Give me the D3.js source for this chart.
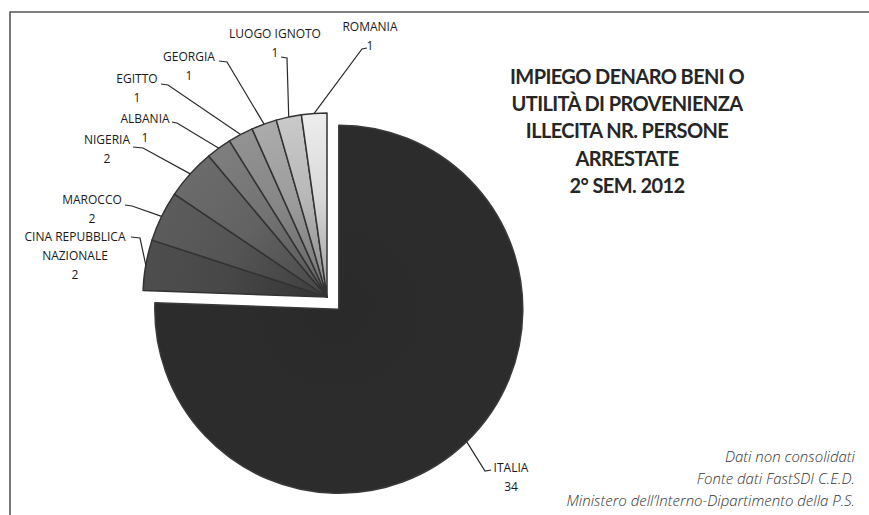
<html>
  <head>
    <script src="https://d3js.org/d3.v7.min.js"></script>
    <style>
      body { margin: 0; background: #fff; }
      .lbl { font-family: "Open Sans", sans-serif; font-size: 12px; font-weight: 500; fill: #1a1a1a; text-anchor: middle; }
      .title { font-family: Lato, "Open Sans", sans-serif; font-weight: bold; font-size: 20px; letter-spacing: -0.6px; fill: #262626; text-anchor: middle; }
      .note { font-family: "Open Sans", sans-serif; font-style: italic; font-weight: 300; font-size: 15px; fill: #333; text-anchor: end; }
      .leader { fill: none; stroke: #2a2a2a; stroke-width: 1.2; }
    </style>
  </head>
  <body>
    <svg id="chart" width="869" height="515"></svg>
    <script>
      // data
      const countries = ["ITALIA", "CINA REPUBBLICA NAZIONALE", "MAROCCO", "NIGERIA", "ALBANIA", "EGITTO", "GEORGIA", "LUOGO IGNOTO", "ROMANIA"];
      const arrests = [34, 2, 2, 2, 1, 1, 1, 1, 1];
      const shades = ["#2c2c2c", "#474747", "#545454", "#626262", "#737373", "#868686", "#9c9c9c", "#b8b8b8", "#d9d9d9"];
      const titleLines = ["IMPIEGO DENARO BENI O", "UTILITÀ DI PROVENIENZA", "ILLECITA NR. PERSONE", "ARRESTATE", "2° SEM. 2012"];
      const noteLines = ["Dati non consolidati", "Fonte dati FastSDI C.E.D.", "Ministero dell\u2019Interno-Dipartimento della P.S."];

      // label placement (layout only)
      const labelLayout = {
        "ITALIA": {x: 511, y: 472, ex: 485, ey: 471, hx: 491, lines: ["ITALIA"]},
        "CINA REPUBBLICA NAZIONALE": {x: 75, y: 241, ex: 140, ey: 238, hx: 131, lines: ["CINA REPUBBLICA", "NAZIONALE"]},
        "MAROCCO": {x: 92, y: 204, ex: 132, ey: 206, hx: 125, lines: ["MAROCCO"]},
        "NIGERIA": {x: 107, y: 144, ex: 143, ey: 148, hx: 133, lines: ["NIGERIA"]},
        "ALBANIA": {x: 145, y: 123, ex: 177, ey: 123, hx: 172, lines: ["ALBANIA"]},
        "EGITTO": {x: 137, y: 83, ex: 168, ey: 85, hx: 161, lines: ["EGITTO"]},
        "GEORGIA": {x: 189, y: 61, ex: 227, ey: 62, hx: 219, lines: ["GEORGIA"]},
        "LUOGO IGNOTO": {x: 275, y: 38, ex: 287, ey: 58, hx: 281, lines: ["LUOGO IGNOTO"]},
        "ROMANIA": {x: 370, y: 31, ex: 362, ey: 49, hx: 367, lines: ["ROMANIA"]}
      };

      const svg = d3.select("svg#chart");
      const cx = 327, cy = 297, radius = 184, explode = 17;

      // frame
      svg.append("path")
        .attr("d", "M10,515 L10,12 L869,12")
        .attr("fill", "none")
        .attr("stroke", "#555")
        .attr("stroke-width", 1.6);

      const data = countries.map((c, i) => ({name: c, value: arrests[i], shade: shades[i]}));

      const pie = d3.pie().value(d => d.value).sort(null).startAngle(0).endAngle(2 * Math.PI);
      const arc = d3.arc().innerRadius(0).outerRadius(radius);
      const arcs = pie(data);

      const defs = svg.append("defs");
      arcs.forEach((a, i) => {
        const g = defs.append("radialGradient")
          .attr("id", "grad" + i)
          .attr("gradientUnits", "userSpaceOnUse")
          .attr("cx", 0).attr("cy", 0).attr("r", radius);
        const base = d3.color(a.data.shade);
        g.append("stop").attr("offset", "0%").attr("stop-color", i === 0 ? base.darker(0.1) : base.darker(0.9));
        g.append("stop").attr("offset", "55%").attr("stop-color", base);
        g.append("stop").attr("offset", "100%").attr("stop-color", i === 0 ? base : base.brighter(0.25));
      });

      const offsetOf = a => {
        if (a.data.name !== "ITALIA") return [0, 0];
        const mid = (a.startAngle + a.endAngle) / 2;
        return [explode * Math.sin(mid), -explode * Math.cos(mid)];
      };

      const pieG = svg.append("g").attr("transform", `translate(${cx},${cy})`);
      pieG.selectAll("path.slice")
        .data(arcs)
        .join("path")
        .attr("class", "slice")
        .attr("transform", d => `translate(${offsetOf(d)})`)
        .attr("d", arc)
        .attr("fill", (d, i) => `url(#grad${i})`)
        .attr("stroke", (d, i) => i === 0 ? "#3a3a3a" : "#333")
        .attr("stroke-width", 1.5)
        .attr("stroke-linejoin", "round");

      // leader lines and labels
      const labelG = svg.append("g");
      arcs.forEach(a => {
        const L = labelLayout[a.data.name];
        const mid = (a.startAngle + a.endAngle) / 2;
        const off = offsetOf(a);
        const sx = cx + off[0] + radius * Math.sin(mid);
        const sy = cy + off[1] - radius * Math.cos(mid);
        labelG.append("path")
          .attr("class", "leader")
          .attr("d", d3.line()([[sx, sy], [L.ex, L.ey], [L.hx, L.ey - 1]]));
        const lines = L.lines.concat([String(a.data.value)]);
        const t = labelG.append("text").attr("class", "lbl");
        lines.forEach((s, k) => {
          t.append("tspan").attr("x", L.x).attr("y", L.y + k * 19).text(s);
        });
      });

      // title
      const title = svg.append("text").attr("class", "title");
      titleLines.forEach((s, k) => {
        title.append("tspan").attr("x", 627).attr("y", 84 + k * 27.2).text(s);
      });

      // source note
      const note = svg.append("text").attr("class", "note");
      noteLines.forEach((s, k) => {
        note.append("tspan").attr("x", 855).attr("y", 462 + k * 22).text(s);
      });
    </script>
  </body>
</html>
